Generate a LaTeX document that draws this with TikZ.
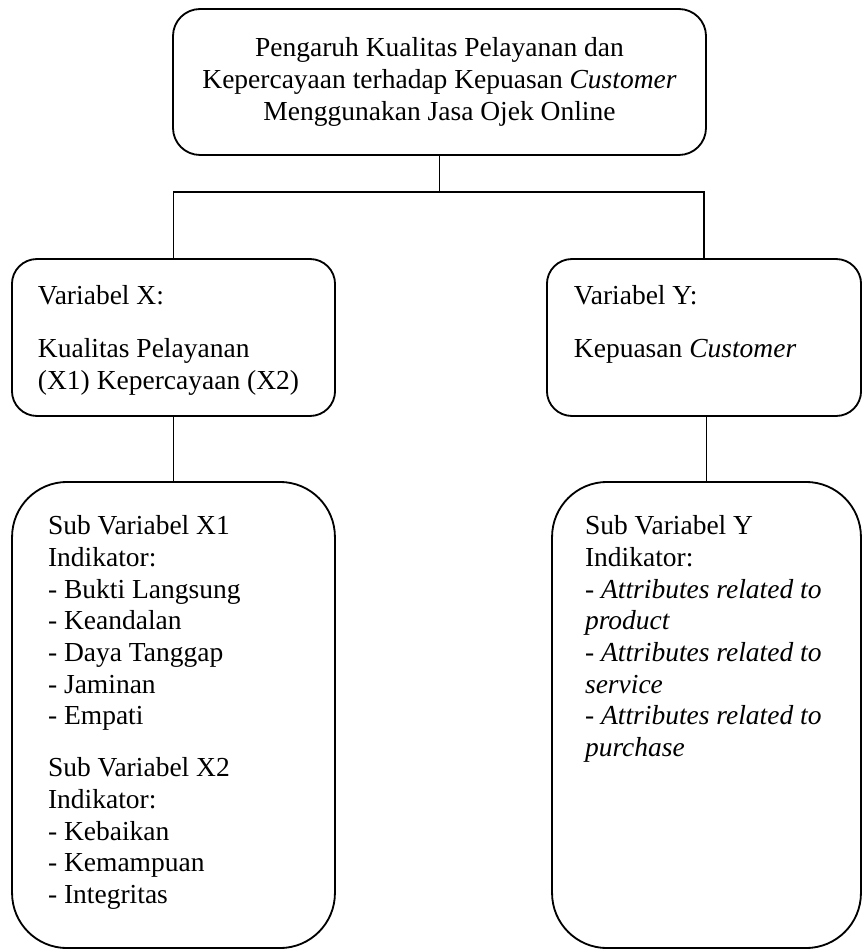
\documentclass[tikz,border=0pt]{standalone}
\usepackage{fontspec}
\setmainfont{Liberation Serif}

\begin{document}
\begin{tikzpicture}[x=0.4364pt, y=-0.4364pt,
  box/.style={draw, line width=0.8pt, inner sep=0pt, font=\fontsize{12pt}{13.8pt}\selectfont},
  link/.style={draw, line width=0.5pt}]
  \useasboundingbox (0,0) rectangle (862,950);

  \node[box, rounded corners=11.8pt, align=center, minimum width=232.6pt, minimum height=63.7pt] (title) at (439.5,82) {Pengaruh Kualitas Pelayanan dan\\Kepercayaan terhadap Kepuasan \textit{Customer}\\Menggunakan Jasa Ojek Online};

  \node[box, rounded corners=10.9pt, inner xsep=11.35pt, inner ysep=11.35pt] (varx) at (173.5,337.5) {\parbox[t][45.8pt][t]{118.3pt}{Variabel X:\\[9.5pt]Kualitas Pelayanan\\(X1) Kepercayaan (X2)}};
  \node[box, rounded corners=10.9pt, inner xsep=11.8pt, inner ysep=11.35pt] (vary) at (704,337.5) {\parbox[t][45.8pt][t]{113.5pt}{Variabel Y:\\[9.5pt]Kepuasan \textit{Customer}}};

  \node[box, rounded corners=24pt, inner xsep=15.7pt, inner ysep=14.8pt] (subx) at (173.5,715) {\parbox[t][173.8pt][t]{109.5pt}{Sub Variabel X1\\Indikator:\\- Bukti Langsung\\- Keandalan\\- Daya Tanggap\\- Jaminan\\- Empati\\[9pt]Sub Variabel X2\\Indikator:\\- Kebaikan\\- Kemampuan\\- Integritas}};
  \node[box, rounded corners=24pt, inner xsep=14.4pt, inner ysep=14.8pt] (suby) at (706.5,715) {\parbox[t][173.8pt][t]{106pt}{Sub Variabel Y\\Indikator:\\- \textit{Attributes related to}\\\textit{product}\\- \textit{Attributes related to}\\\textit{service}\\- \textit{Attributes related to}\\\textit{purchase}}};

  \coordinate (split) at (439.5,192);
  \draw[link] (title.south) -- (split);
  \draw[link] (varx.north) |- (split) -| (vary.north);
  \draw[link] (varx.south) -- (subx.north);
  \draw[link] (suby.north) -- (suby.north |- vary.south);
\end{tikzpicture}
\end{document}
